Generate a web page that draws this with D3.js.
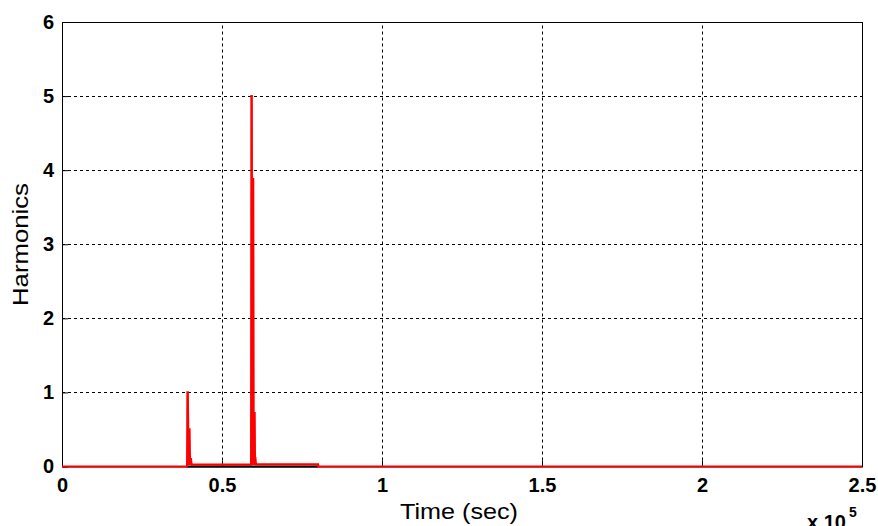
<!DOCTYPE html>
<html>
<head>
<meta charset="utf-8">
<script src="https://cdn.jsdelivr.net/npm/d3@7"></script>
<style>
  body { margin: 0; background: #fff; }
  svg { display: block; }
</style>
</head>
<body>
<svg></svg>
<script>
// Chart size and plot box
const width = 878, height = 526, margin = { top: 22, right: 16, bottom: 60, left: 62 };

// Data (time in units of 1e5 sec)
const xTicks = [0, 0.5, 1, 1.5, 2, 2.5];
const yTicks = [0, 1, 2, 3, 4, 5, 6];
const redX = [0, 0.391, 0.392, 0.393, 0.3955, 0.397, 0.3985, 0.400, 0.4015, 0.403, 0.405, 0.406,
              0.591, 0.592, 0.593, 0.5945, 0.596, 0.5975, 0.599, 0.6005, 0.602, 0.603, 0.604, 0.606,
              0.800, 0.801, 2.5];
const redY = [0, 0, 1.0, 1.0, 0.02, 0.5, 0.5, 0.02, 0.1, 0.1, 0.025, 0.025,
              0.025, 5.0, 5.0, 0.02, 3.88, 3.88, 0.02, 0.72, 0.72, 0.02, 0.13, 0.03,
              0.03, 0, 0];
const blackX = [0.39, 0.80];
const blackY = [0, 0];

const svg = d3.select("svg")
    .attr("width", width)
    .attr("height", height);

const x = d3.scaleLinear().domain([0, 2.5]).range([margin.left, width - margin.right]);
const y = d3.scaleLinear().domain([0, 6]).range([height - margin.bottom + 0.5, margin.top]);

const font = "Liberation Sans, Arial, sans-serif";

// Grid lines (dotted)
svg.append("g")
    .selectAll("line.gx")
    .data(xTicks.slice(1, -1))
    .enter()
    .append("line")
    .attr("x1", d => Math.round(x(d)) + 0.5)
    .attr("x2", d => Math.round(x(d)) + 0.5)
    .attr("y1", y(0))
    .attr("y2", y(6))
    .attr("stroke", "#000")
    .attr("stroke-width", 1)
    .attr("stroke-dasharray", "3,3");

svg.append("g")
    .selectAll("line.gy")
    .data(yTicks.slice(1, -1))
    .enter()
    .append("line")
    .attr("x1", x(0))
    .attr("x2", x(2.5))
    .attr("y1", d => Math.round(y(d)) + 0.5)
    .attr("y2", d => Math.round(y(d)) + 0.5)
    .attr("stroke", "#000")
    .attr("stroke-width", 1)
    .attr("stroke-dasharray", "3,3");

// Plot box
svg.append("rect")
    .attr("x", x(0) + 0.5)
    .attr("y", y(6) + 0.5)
    .attr("width", x(2.5) - x(0))
    .attr("height", y(0) - y(6))
    .attr("fill", "none")
    .attr("stroke", "#000")
    .attr("stroke-width", 1);

// Axes with inward ticks
const xAxis = d3.axisBottom(x).tickValues(xTicks).tickSize(-6).tickPadding(11)
    .tickFormat(d3.format(""));
svg.append("g")
    .attr("transform", `translate(0, ${y(0)})`)
    .call(xAxis)
    .call(g => g.select(".domain").remove())
    .call(g => g.selectAll("text")
        .attr("font-family", font).attr("font-size", 20).attr("font-weight", "bold").attr("fill", "#000"));

const yAxis = d3.axisLeft(y).tickValues(yTicks).tickSize(-6).tickPadding(8)
    .tickFormat(d3.format("d"));
svg.append("g")
    .attr("transform", `translate(${x(0)}, 0)`)
    .call(yAxis)
    .call(g => g.select(".domain").remove())
    .call(g => g.selectAll("text")
        .attr("font-family", font).attr("font-size", 20).attr("font-weight", "bold").attr("fill", "#000"));

// Series
const line = d3.line().x(d => x(d[0])).y(d => y(d[1]));

svg.append("path")
    .datum(d3.zip(blackX, blackY))
    .attr("d", line)
    .attr("fill", "none")
    .attr("stroke", "#000")
    .attr("stroke-width", 2);

svg.append("path")
    .datum(d3.zip(redX, redY))
    .attr("d", line)
    .attr("fill", "none")
    .attr("stroke", "#ff0000")
    .attr("stroke-width", 2.2);

// Axis labels
svg.append("text")
    .attr("x", 400)
    .attr("y", 519)
    .attr("font-family", font)
    .attr("font-size", 22)
    .attr("textLength", 118)
    .attr("lengthAdjust", "spacingAndGlyphs")
    .text("Time (sec)");

svg.append("text")
    .attr("transform", `translate(28, 306) rotate(-90)`)
    .attr("font-family", font)
    .attr("font-size", 22)
    .attr("textLength", 123)
    .attr("lengthAdjust", "spacingAndGlyphs")
    .text("Harmonics");

// Exponent label
const ex = svg.append("text")
    .attr("x", 807)
    .attr("y", 529)
    .attr("font-family", font)
    .attr("font-size", 20)
    .attr("font-weight", "bold");
ex.append("tspan").text("x 10");
ex.append("tspan").attr("dx", 3).attr("dy", -12).attr("font-size", 14).text("5");
</script>
</body>
</html>
